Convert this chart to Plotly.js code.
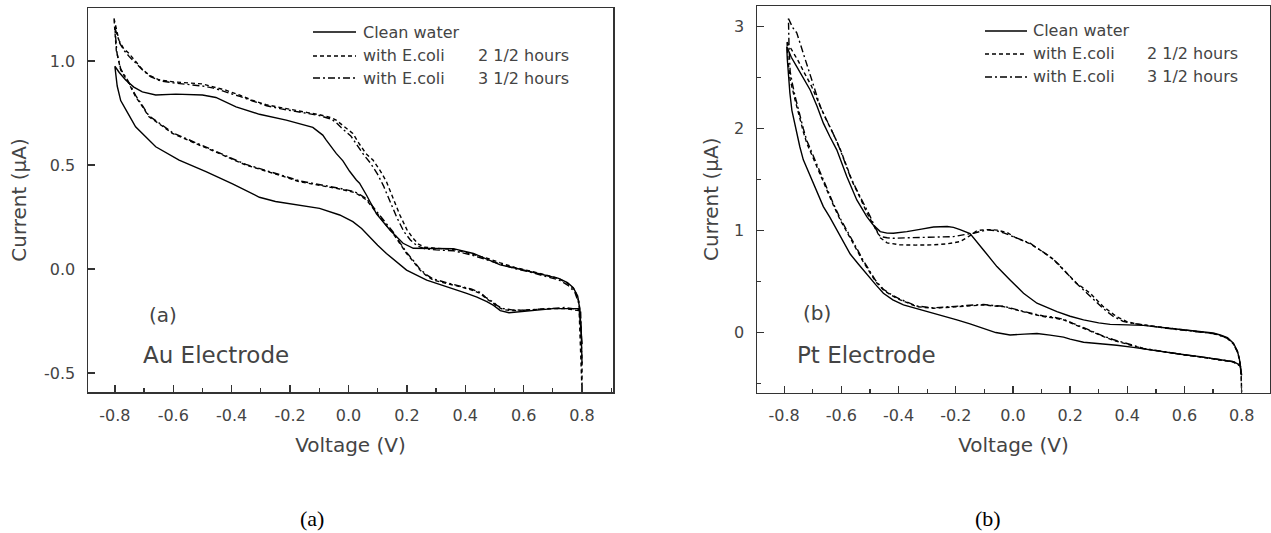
<!DOCTYPE html>
<html>
<head>
<meta charset="utf-8">
<script src="https://cdn.plot.ly/plotly-3.0.1.min.js"></script>
<style>html,body{margin:0;padding:0;background:#fff;}#chart{width:1271px;height:533px;}</style>
</head>
<body>
<div id="chart"></div>
<script>
// ---------- Tick labels ----------
var xTickVals = [-0.8, -0.6, -0.4, -0.2, 0.0, 0.2, 0.4, 0.6, 0.8];
var xTickText = ["-0.8", "-0.6", "-0.4", "-0.2", "0.0", "0.2", "0.4", "0.6", "0.8"];
var auTickVals = [-0.5, 0.0, 0.5, 1.0];
var auTickText = ["-0.5", "0.0", "0.5", "1.0"];
var ptTickVals = [0, 1, 2, 3];
var ptTickText = ["0", "1", "2", "3"];

var seriesNames = ["Clean water", "with E.coli", "with E.coli"];
var seriesTimes = ["", "2 1/2 hours", "3 1/2 hours"];

// ---------- (a) Au electrode ----------
var auCleanV = [-0.800,-0.785,-0.763,-0.735,-0.706,-0.660,-0.591,-0.500,-0.454,-0.385,-0.305,-0.213,-0.122,-0.088,-0.076,-0.042,-0.019,0.004,0.027,0.038,0.062,0.096,0.142,0.187,0.222,0.290,0.359,0.428,0.480,0.520,0.570,0.623,0.680,0.720,0.750,0.770,0.785,0.792,0.797,0.800,
  0.790,0.700,0.600,0.550,0.520,0.497,0.474,0.440,0.405,0.336,0.268,0.199,0.160,0.130,0.100,0.073,0.045,0.015,-0.030,-0.099,-0.190,-0.250,-0.305,-0.397,-0.488,-0.580,-0.660,-0.729,-0.760,-0.780,-0.792,-0.800];
var auCleanI = [0.975,0.945,0.909,0.875,0.852,0.837,0.841,0.837,0.825,0.780,0.744,0.716,0.681,0.644,0.620,0.556,0.520,0.470,0.428,0.413,0.355,0.265,0.188,0.124,0.100,0.100,0.098,0.075,0.045,0.020,0.005,-0.013,-0.030,-0.045,-0.065,-0.090,-0.130,-0.190,-0.300,-0.360,
  -0.190,-0.190,-0.205,-0.210,-0.200,-0.175,-0.157,-0.135,-0.117,-0.085,-0.053,-0.005,0.040,0.075,0.115,0.155,0.195,0.228,0.260,0.292,0.310,0.325,0.345,0.410,0.468,0.524,0.588,0.684,0.760,0.810,0.880,0.975];

var auEcoli25V = [-0.803,-0.795,-0.786,-0.770,-0.752,-0.730,-0.706,-0.680,-0.649,-0.600,-0.557,-0.500,-0.466,-0.420,-0.374,-0.330,-0.282,-0.230,-0.190,-0.140,-0.099,-0.060,-0.042,-0.020,0.015,0.038,0.060,0.084,0.110,0.130,0.153,0.176,0.200,0.220,0.240,0.260,0.300,0.360,0.428,0.480,0.520,0.570,0.623,0.680,0.720,0.752,0.775,0.790,0.797,0.800,0.800,
  0.790,0.740,0.700,0.640,0.600,0.560,0.530,0.510,0.497,0.470,0.451,0.420,0.382,0.340,0.290,0.265,0.245,0.220,0.199,0.175,0.153,0.130,0.107,0.085,0.062,0.027,0.015,-0.030,-0.076,-0.120,-0.168,-0.210,-0.259,-0.300,-0.351,-0.385,-0.420,-0.466,-0.511,-0.560,-0.603,-0.640,-0.683,-0.710,-0.729,-0.755,-0.780,-0.795,-0.803];
var auEcoli25I = [1.205,1.150,1.100,1.060,1.037,1.000,0.960,0.930,0.910,0.900,0.895,0.890,0.877,0.860,0.837,0.812,0.790,0.775,0.765,0.752,0.742,0.728,0.716,0.690,0.652,0.600,0.555,0.524,0.470,0.420,0.340,0.260,0.190,0.150,0.120,0.105,0.100,0.095,0.070,0.050,0.030,0.008,-0.010,-0.030,-0.045,-0.070,-0.100,-0.160,-0.300,-0.450,-0.591,
  -0.200,-0.190,-0.190,-0.195,-0.200,-0.200,-0.195,-0.180,-0.165,-0.140,-0.117,-0.100,-0.085,-0.072,-0.053,-0.030,-0.005,0.040,0.075,0.125,0.171,0.210,0.251,0.295,0.332,0.364,0.370,0.385,0.396,0.408,0.420,0.440,0.460,0.480,0.500,0.520,0.540,0.570,0.596,0.625,0.652,0.690,0.732,0.790,0.829,0.900,0.957,1.050,1.205];

var auEcoli35V = [-0.800,-0.792,-0.783,-0.768,-0.750,-0.728,-0.704,-0.678,-0.645,-0.600,-0.555,-0.500,-0.462,-0.418,-0.372,-0.328,-0.280,-0.230,-0.188,-0.140,-0.100,-0.062,-0.045,-0.025,0.008,0.030,0.052,0.075,0.100,0.120,0.142,0.165,0.190,0.212,0.235,0.260,0.300,0.360,0.428,0.480,0.520,0.570,0.623,0.680,0.720,0.752,0.775,0.790,0.797,0.800,
  0.795,0.740,0.700,0.640,0.600,0.560,0.530,0.510,0.497,0.470,0.451,0.420,0.382,0.340,0.290,0.265,0.245,0.220,0.199,0.175,0.153,0.130,0.107,0.085,0.062,0.027,0.015,-0.030,-0.076,-0.120,-0.168,-0.210,-0.259,-0.300,-0.351,-0.385,-0.420,-0.466,-0.511,-0.560,-0.603,-0.640,-0.683,-0.710,-0.729,-0.755,-0.780,-0.793,-0.800];
var auEcoli35I = [1.160,1.120,1.085,1.050,1.020,0.990,0.955,0.925,0.905,0.895,0.888,0.880,0.870,0.852,0.830,0.808,0.785,0.770,0.760,0.748,0.738,0.722,0.708,0.680,0.640,0.595,0.550,0.510,0.455,0.400,0.325,0.250,0.180,0.140,0.112,0.098,0.092,0.088,0.065,0.042,0.022,0.002,-0.015,-0.035,-0.052,-0.078,-0.110,-0.170,-0.280,-0.460,
  -0.195,-0.185,-0.188,-0.192,-0.198,-0.196,-0.190,-0.176,-0.160,-0.136,-0.112,-0.096,-0.082,-0.068,-0.048,-0.025,0.000,0.045,0.080,0.130,0.178,0.218,0.258,0.300,0.338,0.368,0.374,0.388,0.400,0.412,0.424,0.443,0.463,0.483,0.503,0.523,0.543,0.573,0.600,0.628,0.656,0.694,0.736,0.795,0.835,0.905,0.962,1.040,1.160];

// ---------- (b) Pt electrode ----------
var ptCleanV = [-0.791,-0.775,-0.756,-0.730,-0.709,-0.685,-0.663,-0.640,-0.616,-0.581,-0.546,-0.511,-0.490,-0.464,-0.440,-0.418,-0.371,-0.320,-0.278,-0.230,-0.208,-0.185,-0.150,-0.103,-0.056,-0.010,0.037,0.084,0.154,0.200,0.247,0.300,0.340,0.400,0.456,0.538,0.600,0.655,0.700,0.725,0.750,0.771,0.785,0.792,0.797,0.800,
  0.795,0.771,0.720,0.655,0.600,0.538,0.480,0.421,0.363,0.300,0.247,0.200,0.177,0.130,0.084,0.040,-0.010,-0.060,-0.103,-0.150,-0.196,-0.250,-0.301,-0.340,-0.383,-0.420,-0.453,-0.480,-0.511,-0.540,-0.569,-0.590,-0.616,-0.640,-0.663,-0.680,-0.698,-0.715,-0.733,-0.745,-0.756,-0.765,-0.773,-0.780,-0.785,-0.789,-0.791];
var ptCleanI = [2.806,2.700,2.609,2.480,2.379,2.220,2.054,1.920,1.792,1.530,1.301,1.137,1.060,0.990,0.975,0.974,0.990,1.015,1.035,1.040,1.032,1.010,0.970,0.810,0.647,0.516,0.386,0.288,0.205,0.160,0.124,0.095,0.080,0.075,0.070,0.045,0.025,0.009,-0.005,-0.024,-0.050,-0.105,-0.180,-0.260,-0.340,-0.420,
  -0.320,-0.286,-0.262,-0.236,-0.218,-0.192,-0.165,-0.145,-0.125,-0.110,-0.095,-0.065,-0.045,-0.025,-0.010,-0.015,-0.024,0.000,0.042,0.085,0.124,0.165,0.205,0.235,0.271,0.320,0.386,0.470,0.570,0.670,0.770,0.880,1.007,1.130,1.235,1.350,1.465,1.580,1.694,1.820,1.956,2.070,2.180,2.350,2.510,2.680,2.806];

var ptEcoli25V = [-0.790,-0.770,-0.750,-0.728,-0.705,-0.680,-0.655,-0.630,-0.604,-0.580,-0.560,-0.534,-0.510,-0.485,-0.464,-0.440,-0.394,-0.340,-0.278,-0.230,-0.185,-0.150,-0.126,-0.090,-0.056,-0.020,0.010,0.060,0.100,0.140,0.177,0.223,0.270,0.316,0.363,0.398,0.430,0.470,0.538,0.600,0.655,0.700,0.725,0.750,0.771,0.785,0.793,0.798,0.800,
  0.796,0.771,0.720,0.655,0.600,0.538,0.480,0.456,0.420,0.386,0.350,0.317,0.280,0.247,0.210,0.177,0.140,0.107,0.070,0.037,0.000,-0.033,-0.070,-0.103,-0.150,-0.196,-0.240,-0.278,-0.336,-0.394,-0.425,-0.453,-0.480,-0.499,-0.525,-0.546,-0.575,-0.604,-0.628,-0.651,-0.670,-0.686,-0.705,-0.721,-0.733,-0.744,-0.755,-0.762,-0.772,-0.779,-0.786,-0.790];
var ptEcoli25I = [2.850,2.760,2.660,2.540,2.420,2.260,2.100,1.960,1.800,1.620,1.470,1.320,1.170,1.040,0.930,0.880,0.860,0.858,0.860,0.870,0.892,0.950,1.000,1.010,1.005,0.980,0.930,0.870,0.800,0.720,0.614,0.484,0.386,0.254,0.156,0.107,0.085,0.068,0.045,0.025,0.008,-0.008,-0.028,-0.055,-0.110,-0.185,-0.270,-0.400,-0.588,
  -0.330,-0.290,-0.265,-0.240,-0.220,-0.195,-0.170,-0.158,-0.130,-0.105,-0.075,-0.040,0.000,0.042,0.085,0.124,0.145,0.156,0.180,0.205,0.235,0.254,0.262,0.271,0.262,0.254,0.240,0.238,0.254,0.320,0.365,0.418,0.500,0.582,0.700,0.810,0.960,1.105,1.250,1.400,1.520,1.628,1.750,1.858,1.970,2.086,2.190,2.283,2.400,2.479,2.650,2.850];

var ptEcoli35V = [-0.785,-0.770,-0.756,-0.745,-0.733,-0.720,-0.709,-0.690,-0.674,-0.656,-0.639,-0.620,-0.604,-0.585,-0.569,-0.550,-0.534,-0.515,-0.499,-0.480,-0.464,-0.440,-0.418,-0.360,-0.301,-0.250,-0.208,-0.170,-0.138,-0.091,-0.060,-0.030,0.002,0.060,0.100,0.130,0.160,0.190,0.215,0.250,0.285,0.316,0.350,0.385,0.420,0.470,0.538,0.600,0.655,0.700,0.725,0.750,0.771,0.785,0.793,0.798,
  0.795,0.771,0.720,0.655,0.600,0.538,0.480,0.456,0.420,0.386,0.350,0.317,0.280,0.247,0.210,0.177,0.140,0.107,0.070,0.037,0.000,-0.033,-0.070,-0.103,-0.150,-0.196,-0.240,-0.278,-0.336,-0.394,-0.425,-0.453,-0.480,-0.499,-0.525,-0.546,-0.575,-0.604,-0.628,-0.651,-0.670,-0.686,-0.705,-0.721,-0.733,-0.744,-0.755,-0.762,-0.772,-0.779,-0.783,-0.785];
var ptEcoli35I = [3.080,2.990,2.940,2.840,2.740,2.620,2.510,2.360,2.217,2.110,2.020,1.900,1.792,1.650,1.530,1.420,1.334,1.220,1.137,1.020,0.941,0.930,0.925,0.930,0.935,0.938,0.941,0.960,0.974,1.007,1.000,0.975,0.941,0.876,0.800,0.745,0.670,0.580,0.500,0.410,0.320,0.235,0.160,0.110,0.090,0.068,0.042,0.022,0.006,-0.010,-0.030,-0.058,-0.112,-0.190,-0.280,-0.420,
  -0.325,-0.285,-0.262,-0.238,-0.218,-0.192,-0.167,-0.155,-0.125,-0.098,-0.068,-0.035,0.005,0.048,0.090,0.130,0.152,0.162,0.185,0.210,0.240,0.258,0.266,0.275,0.268,0.258,0.245,0.242,0.260,0.326,0.372,0.425,0.510,0.595,0.715,0.825,0.975,1.120,1.265,1.415,1.540,1.650,1.775,1.885,2.000,2.115,2.220,2.320,2.450,2.560,2.800,3.080];

// ---------- styling ----------
var W = 1271, H = 533;
function px(x) { return x / W; }
function py(y) { return 1 - y / H; }
var dashStyles = ["solid", "4px,3px", "7px,3px,2px,3px"];
var ink = "#000";
var textCol = "#444";
var sans = "DejaVu Sans, Arial, sans-serif";

function tr(v, i, k, xa, ya) {
  return { x: v, y: i, mode: "lines", xaxis: xa, yaxis: ya, showlegend: false, hoverinfo: "skip",
           line: { color: ink, width: 1.4, dash: dashStyles[k] } };
}
var data = [
  tr(auCleanV, auCleanI, 0, "x", "y"),
  tr(auEcoli25V, auEcoli25I, 1, "x", "y"),
  tr(auEcoli35V, auEcoli35I, 2, "x", "y"),
  tr(ptCleanV, ptCleanI, 0, "x2", "y2"),
  tr(ptEcoli25V, ptEcoli25I, 1, "x2", "y2"),
  tr(ptEcoli35V, ptEcoli35I, 2, "x2", "y2")
];

function baseAxis() {
  return { showgrid: false, zeroline: false, showline: true, mirror: true, linecolor: "#333", linewidth: 1.5,
           ticks: "inside", ticklen: 7, tickwidth: 1.3, tickcolor: "#333",
           tickfont: { family: sans, size: 16, color: textCol }, automargin: false, fixedrange: true };
}
function xAxis(dom, rng, anchor) {
  var a = baseAxis();
  a.domain = dom; a.range = rng; a.anchor = anchor;
  a.tickmode = "array"; a.tickvals = xTickVals; a.ticktext = xTickText;
  a.ticklabelstandoff = 8;
  a.minor = { tickmode: "linear", tick0: 0, dtick: 0.1, ticks: "inside", ticklen: 4, tickcolor: "#333", tickwidth: 1.2 };
  a.title = { text: "Voltage (V)", font: { family: sans, size: 20, color: textCol }, standoff: 14 };
  return a;
}
function yAxis(dom, rng, anchor, vals, text, minorDt, standoff) {
  var a = baseAxis();
  a.domain = dom; a.range = rng; a.anchor = anchor;
  a.tickmode = "array"; a.tickvals = vals; a.ticktext = text;
  a.ticklabelstandoff = 8;
  if (minorDt) a.minor = { tickmode: "linear", tick0: 0, dtick: minorDt, ticks: "inside", ticklen: 4, tickcolor: "#333", tickwidth: 1.2 };
  a.title = { text: "Current (\u00B5A)", font: { family: sans, size: 20, color: textCol }, standoff: standoff };
  return a;
}

var layout = {
  width: W, height: H, margin: { l: 0, r: 0, t: 0, b: 0 },
  paper_bgcolor: "#fff", plot_bgcolor: "#fff", showlegend: false,
  xaxis: xAxis([px(88), px(613)], [-0.892, 0.906], "y"),
  yaxis: yAxis([py(392), py(8)], [-0.591, 1.255], "x", auTickVals, auTickText, null, 12),
  xaxis2: xAxis([px(757), px(1270)], [-0.895, 0.899], "y2"),
  yaxis2: yAxis([py(392.5), py(6)], [-0.588, 3.203], "x2", ptTickVals, ptTickText, 0.5, 10),
  shapes: [],
  annotations: []
};

function legendBlock(x0, x1, tx, tx2, rows) {
  for (var k = 0; k < 3; k++) {
    layout.shapes.push({ type: "line", xref: "paper", yref: "paper", x0: px(x0), x1: px(x1), y0: py(rows[k]), y1: py(rows[k]),
                         line: { color: ink, width: 1.4, dash: dashStyles[k] } });
    layout.annotations.push({ xref: "paper", yref: "paper", x: px(tx), y: py(rows[k]), xanchor: "left", yanchor: "middle",
                              showarrow: false, text: seriesNames[k], font: { family: sans, size: 16, color: textCol } });
    if (seriesTimes[k]) {
      layout.annotations.push({ xref: "paper", yref: "paper", x: px(tx2), y: py(rows[k]), xanchor: "left", yanchor: "middle",
                                showarrow: false, text: seriesTimes[k], font: { family: sans, size: 16, color: textCol } });
    }
  }
}
legendBlock(313, 356, 361, 476, [32, 56, 78]);
legendBlock(985, 1027, 1031, 1145, [31, 54, 77]);

function label(x, y, t, size, fam, col) {
  layout.annotations.push({ xref: "paper", yref: "paper", x: px(x), y: py(y), xanchor: "center", yanchor: "middle",
                            showarrow: false, text: t, font: { family: fam, size: size, color: col } });
}
label(163, 315, "(a)", 20, sans, textCol);
label(216, 355, "Au Electrode", 23, sans, textCol);
label(817, 313, "(b)", 20, sans, textCol);
label(866, 355, "Pt Electrode", 23, sans, textCol);
label(312, 518, "(a)", 22, "Liberation Serif, Times New Roman, serif", "#000");
label(988, 518, "(b)", 22, "Liberation Serif, Times New Roman, serif", "#000");

Plotly.newPlot("chart", data, layout, { displayModeBar: false, staticPlot: true });
</script>
</body>
</html>
